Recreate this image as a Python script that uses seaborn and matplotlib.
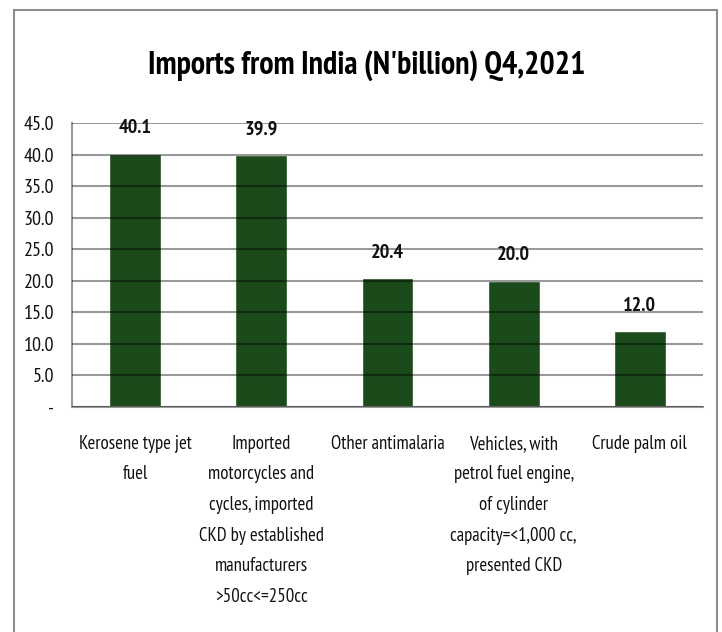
import matplotlib
matplotlib.use('Agg')
import matplotlib.pyplot as plt
import seaborn as sns
import pandas as pd
from matplotlib.patches import Rectangle

# data
categories = ['Kerosene type jet\nfuel',
              'Imported\nmotorcycles and\ncycles, imported\nCKD by established\nmanufacturers\n>50cc<=250cc',
              'Other antimalaria',
              'Vehicles, with\npetrol fuel engine,\nof cylinder\ncapacity=<1,000 cc,\npresented CKD',
              'Crude palm oil']
values = [40.1, 39.9, 20.4, 20.0, 12.0]
y_ticks = [0, 5, 10, 15, 20, 25, 30, 35, 40, 45]
y_labels = ['-', '5.0', '10.0', '15.0', '20.0', '25.0', '30.0', '35.0', '40.0', '45.0']

df = pd.DataFrame({'item': categories, 'value': values})

sns.set_style('white')
plt.rcParams['font.family'] = ['PT Sans Narrow', 'DejaVu Sans']
plt.rcParams['text.color'] = '#111111'

fig = plt.figure(figsize=(7.22, 6.32), dpi=100)
ax = fig.add_axes([72 / 722, 1 - 407 / 632, 631 / 722, 284 / 632])

sns.barplot(data=df, x='item', y='value', color='#1b4a1b', saturation=1,
            width=0.41, ax=ax)

# gridlines drawn over the bars like the original
ax.set_axisbelow(False)
ax.yaxis.grid(True, color='black', alpha=0.4, linewidth=1.5)
ax.set_ylim(0, 45)
ax.set_yticks(y_ticks)
ax.set_yticklabels(y_labels, fontsize=14.5, color='#111111')
ax.tick_params(axis='y', length=0, pad=13)
ax.tick_params(axis='x', length=0, pad=20)
for lbl in ax.get_xticklabels():
    lbl.set_fontsize(13.5)
    lbl.set_color('#111111')
    lbl.set_linespacing(1.9)
    lbl.set_verticalalignment('top')

for side in ['top', 'right']:
    ax.spines[side].set_visible(False)
for side in ['left', 'bottom']:
    ax.spines[side].set_color('#999999')
    ax.spines[side].set_linewidth(1.5)

ax.set_xlabel('')
ax.set_ylabel('')

ax.bar_label(ax.containers[0], fmt='%.1f', padding=12, fontsize=14.5,
             fontweight='bold', color='#111111')

fig.text(367 / 722, 1 - 66 / 632, "Imports from India (N'billion) Q4,2021",
         ha='center', va='center', fontsize=23, fontweight='bold', color='black')

# outer chart border
fig.patches.append(Rectangle((14 / 722, -0.01), (717 - 14) / 722, 1 - 10 / 632 + 0.01,
                             transform=fig.transFigure, fill=False,
                             edgecolor='#8c8c8c', linewidth=1.5))

fig.savefig('out.png', dpi=100)
